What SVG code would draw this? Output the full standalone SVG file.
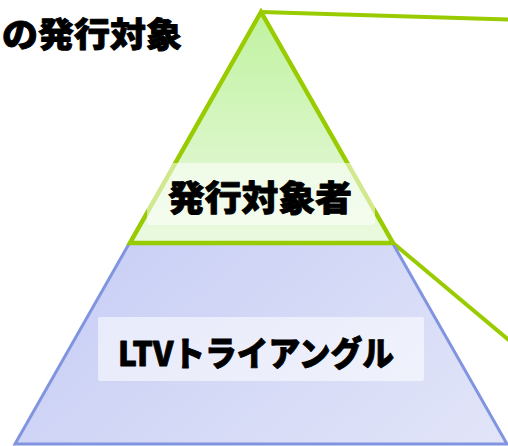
<svg xmlns="http://www.w3.org/2000/svg" width="508" height="446" viewBox="0 0 508 446">
<defs>
<linearGradient id="gBlue" x1="0" y1="0" x2="1" y2="1">
<stop offset="0" stop-color="#bcc4f4"/>
<stop offset="1" stop-color="#e2e5f8"/>
</linearGradient>
<linearGradient id="gGreen" x1="0" y1="0" x2="0" y2="1">
<stop offset="0" stop-color="#c0f2a0"/>
<stop offset="1" stop-color="#eaf9e0"/>
</linearGradient>
</defs>
<style>
.t{font-family:"Noto Sans CJK JP","Liberation Sans",sans-serif;font-weight:900;fill:#000;stroke:#000;stroke-width:0.9;stroke-linejoin:round}
.box{fill:#ffffff;fill-opacity:0.55}
.gl{stroke:#99cc00;stroke-width:4;fill:none;stroke-linejoin:miter}
.gt{stroke:#99cc00;stroke-width:4.5;fill:url(#gGreen);stroke-linejoin:miter}
</style>
<text class="t" x="2" y="47" font-size="34" textLength="180" lengthAdjust="spacingAndGlyphs">の発行対象</text>
<g id="connectors">
<line class="gl" x1="261" y1="12" x2="510" y2="19.5"/>
<line class="gl" x1="393" y1="243" x2="510" y2="341"/>
</g>
<g id="ltv">
<polygon points="261,12 15,444 507,444" fill="url(#gBlue)" stroke="#8094e0" stroke-width="3"/>
<rect class="box" x="98" y="317" width="326" height="64" rx="2"/>
<text class="t" x="118" y="366" font-size="34" textLength="276" lengthAdjust="spacingAndGlyphs">LTVトライアングル</text>
</g>
<g id="target">
<polygon points="261,12 130,243 393,243" class="gt"/>
<rect class="box" x="147" y="163" width="228" height="62" rx="2"/>
<text class="t" x="260" y="211" font-size="35" text-anchor="middle" textLength="184" lengthAdjust="spacingAndGlyphs">発行対象者</text>
</g>
</svg>
